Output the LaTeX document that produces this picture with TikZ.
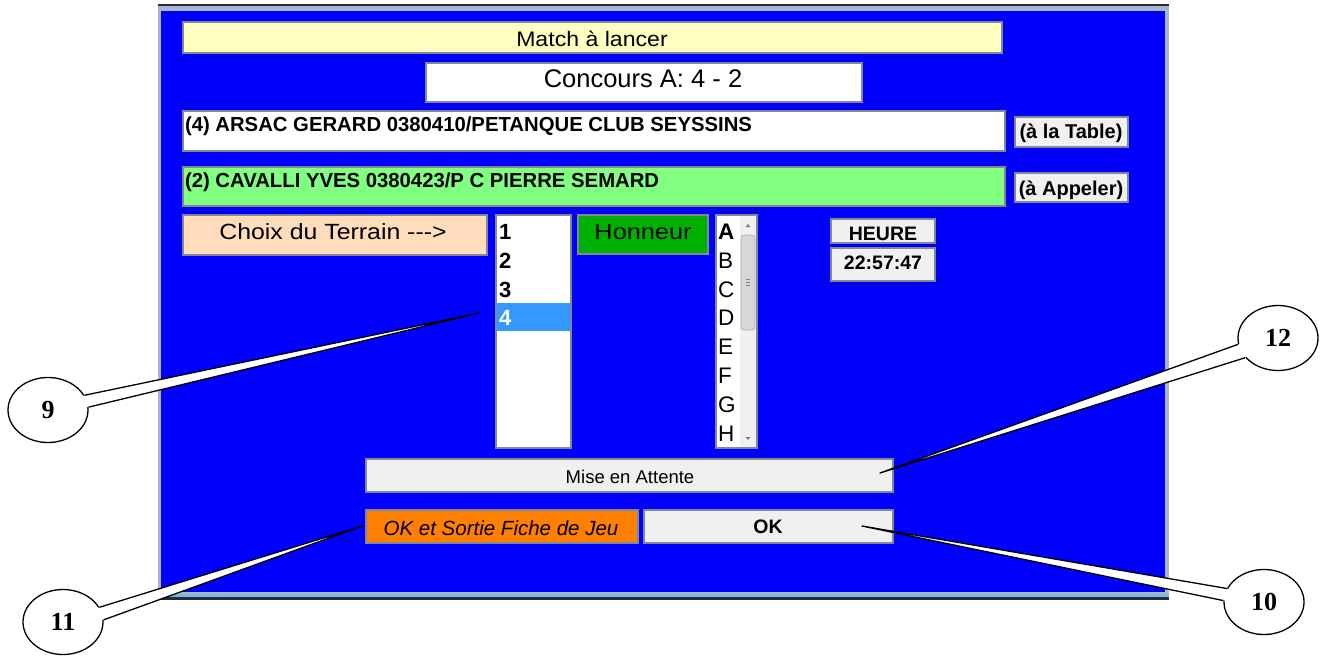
\documentclass[tikz,border=0pt]{standalone}
\usepackage{fontspec}
\usepackage{graphicx}
\setmainfont{Liberation Sans}
\newfontfamily\calfont{Liberation Serif}
\usetikzlibrary{shapes.geometric,fit}
\definecolor{winblue}{RGB}{0,0,255}
\definecolor{framegray}{RGB}{170,182,196}
\definecolor{framedark}{RGB}{40,40,60}
\definecolor{framecyan}{RGB}{110,190,220}
\definecolor{bordergray}{RGB}{130,135,145}
\definecolor{lightyellow}{RGB}{255,255,192}
\definecolor{lightgreen}{RGB}{128,255,128}
\definecolor{peach}{RGB}{255,220,188}
\definecolor{hongreen}{RGB}{0,176,0}
\definecolor{btngray}{RGB}{240,240,240}
\definecolor{selblue}{RGB}{51,153,255}
\definecolor{orangebtn}{RGB}{255,128,0}
\definecolor{thumbgray}{RGB}{215,215,215}
\newcommand{\fs}[1]{\fontsize{#1pt}{#1pt}\selectfont}
\newcommand{\hs}[2]{\scalebox{#1}[1]{#2}}
\tikzset{
  uib/.style={draw=bordergray, line width=1.2pt, inner sep=0pt, outer sep=0pt},
  txt/.style={inner sep=0pt, outer sep=0pt, anchor=base, text=black},
  txtw/.style={inner sep=0pt, outer sep=0pt, anchor=base west, text=black},
  bubble/.style={ellipse, draw=black, fill=white, line width=1.3pt, minimum width=80pt, minimum height=65pt, inner sep=0pt},
  bubtxt/.style={inner sep=0pt, font=\calfont\bfseries\fs{26}},
  wedgefill/.style={fill=white},
  wedgeline/.style={draw=black, line width=1.3pt, line join=round},
}
\newcommand{\uibox}[6]{\node[uib, fill=#6, fit={(#2,#3) (#4,#5)}] (#1) {};}
\begin{document}
\begin{tikzpicture}[x=1pt,y=-1pt]
\useasboundingbox (0,0) rectangle (1324,656);
\fill[white] (0,0) rectangle (1324,656);

% window frame
\node[inner sep=0pt, fill=framegray, fit={(158,5) (1169,600)}] (frame) {};
\node[inner sep=0pt, fill=winblue, fit={(161,11) (1165,592)}] (win) {};
\draw[framedark, line width=1.5pt] (frame.north west) -- (frame.north east);
\fill[framecyan] (158,594) rectangle (1169,597);
\fill[framedark] (158,597) rectangle (1169,600);

% boxes
\uibox{title}{183}{22}{1002}{53}{lightyellow}
\uibox{conc}{426}{63}{862}{102}{white}
\uibox{pone}{183}{111}{1005}{151}{white}
\uibox{table}{1015}{117}{1128}{147}{btngray}
\uibox{ptwo}{183}{167}{1005}{206}{lightgreen}
\uibox{appel}{1015}{173}{1128}{202}{btngray}
\uibox{choix}{183}{215}{487}{255}{peach}
\uibox{listone}{496}{215}{571}{448}{white}
\node[inner sep=0pt, fill=selblue, fit={(497,303) (570,331)}] (sel) {};
\uibox{honneur}{578}{215}{708}{254}{hongreen}
\uibox{listtwo}{716}{215}{757}{448}{white}
\node[inner sep=0pt, fill=btngray, fit={(740,216) (756,447)}] (track) {};
\draw[thumbgray!60!gray, fill=thumbgray, rounded corners=3pt, line width=0.8pt] (741,235) rectangle (755,330);
\draw[gray, line width=0.6pt] (746,279) -- (750,279) (746,282) -- (750,282) (746,285) -- (750,285);
\fill[gray] (745.5,227) -- (750.5,227) -- (748,224) -- cycle;
\fill[gray] (745.5,437) -- (750.5,437) -- (748,440) -- cycle;
\uibox{heure}{831}{219}{935}{243}{btngray}
\uibox{time}{831}{248}{935}{281}{btngray}
\uibox{mise}{366}{459}{893}{492}{btngray}
\uibox{oksort}{366}{510}{638}{543}{orangebtn}
\uibox{ok}{644}{510}{893}{543}{btngray}

% texts
\node[txt, font=\fs{21}] (ttitle) at (592,46) {\hs{1.1}{Match à lancer}};
\node[txt, font=\fs{25.5}] (tconc) at (643,87) {Concours A: 4 - 2};
\node[txtw, font=\bfseries\fs{20.3}] (tpone) at (185,131) {(4) ARSAC GERARD 0380410/PETANQUE CLUB SEYSSINS};
\node[txtw, font=\bfseries\fs{20.3}] (tptwo) at (185,187) {(2) CAVALLI YVES 0380423/P C PIERRE SEMARD};
\node[txt, font=\bfseries\fs{20}] (ttable) at (1071,138) {(à la Table)};
\node[txt, font=\bfseries\fs{20}] (tappel) at (1071,195) {(à Appeler)};
\node[txt, font=\fs{22}] (tchoix) at (333,239) {\hs{1.13}{Choix du Terrain -{}-{}->}};
\node[txtw, font=\bfseries\fs{22}] (n1) at (499,239) {1};
\node[txtw, font=\bfseries\fs{22}] (n2) at (499,268) {2};
\node[txtw, font=\bfseries\fs{22}] (n3) at (499,297) {3};
\node[txtw, font=\bfseries\fs{22}, text=white] (n4) at (499,325) {4};
\node[txt, font=\fs{22}] (thon) at (643,239) {\hs{1.15}{Honneur}};
\node[txtw, font=\bfseries\fs{22.5}] (la) at (718,239) {A};
\node[txtw, font=\fs{22.5}] (lb) at (718,268) {B};
\node[txtw, font=\fs{22.5}] (lc) at (718,297) {C};
\node[txtw, font=\fs{22.5}] (ld) at (718,325) {D};
\node[txtw, font=\fs{22.5}] (le) at (718,354) {E};
\node[txtw, font=\fs{22.5}] (lf) at (718,383) {F};
\node[txtw, font=\fs{22.5}] (lg) at (718,412) {G};
\node[txtw, font=\fs{22.5}] (lh) at (718,441) {H};
\node[txt, font=\bfseries\fs{19.5}] (theure) at (883,240) {HEURE};
\node[txt, font=\bfseries\fs{19.5}] (ttime) at (883,269) {22:57:47};
\node[txt, font=\fs{18.5}] (tmise) at (630,483) {Mise en Attente};
\node[txt, font=\itshape\fs{20.5}] (toks) at (501,535) {OK et Sortie Fiche de Jeu};
\node[txt, font=\bfseries\fs{19.5}] (tok) at (768,533) {OK};

% callouts
\node[bubble] (c9) at (48,410) {};
\node[bubble] (c12) at (1278,338) {};
\node[bubble] (c10) at (1264,602) {};
\node[bubble] (c11) at (63,622) {};
\coordinate (t9) at (479,313);
\coordinate (t12) at (880,473);
\coordinate (t10) at (862,526);
\coordinate (t11) at (362,526);

\fill[wedgefill] (t9) -- (c9.22) -- (c9.center) -- (c9.4) -- cycle;
\draw[wedgeline] (c9.22) -- (t9) -- (c9.4);
\fill[wedgefill] (t12) -- (c12.189) -- (c12.center) -- (c12.211) -- cycle;
\draw[wedgeline] (c12.189) -- (t12) -- (c12.211);
\fill[wedgefill] (t10) -- (c10.160) -- (c10.center) -- (c10.178) -- cycle;
\draw[wedgeline] (c10.160) -- (t10) -- (c10.178);
\fill[wedgefill] (t11) -- (c11.22) -- (c11.center) -- (c11.3) -- cycle;
\draw[wedgeline] (c11.22) -- (t11) -- (c11.3);

\node[bubtxt] (b9) at (c9) {9};
\node[bubtxt] (b12) at (c12) {12};
\node[bubtxt] (b10) at (c10) {10};
\node[bubtxt] (b11) at (c11) {11};
\end{tikzpicture}
\end{document}
